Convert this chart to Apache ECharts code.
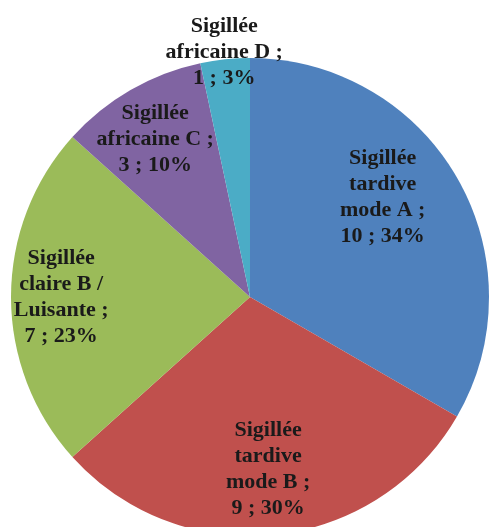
<!DOCTYPE html>
<html>
<head>
<meta charset="utf-8">
<script src="https://cdn.jsdelivr.net/npm/echarts@6/dist/echarts.min.js"></script>
<style>
  html, body { margin: 0; padding: 0; background: #fff; }
  #chart { width: 490px; height: 527px; }
</style>
</head>
<body>
<div id="chart"></div>
<script>
const categories = [
  'Sigillée tardive mode A',
  'Sigillée tardive mode B',
  'Sigillée claire B / Luisante',
  'Sigillée africaine C',
  'Sigillée africaine D'
]
const labelNames = [
  'Sigillée\ntardive\nmode A ;',
  'Sigillée\ntardive\nmode B ;',
  'Sigillée\nclaire B /\nLuisante ;',
  'Sigillée\nafricaine C ;',
  'Sigillée\nafricaine D ;'
]
const counts = [10, 9, 7, 3, 1]
const percents = [34, 30, 23, 10, 3]
const colors = ['#4F81BD', '#C0504D', '#9BBB59', '#8064A2', '#4BACC6']

// label placement (radius ratio, angle tweak in degrees)
const labelRatio = [0.695, 0.725, 0.79, 0.77, 1.03]
const labelTweak = [-7, 0, 0, -1, 0]

const cx = 250, cy = 297, R = 239
const total = counts.reduce((a, b) => a + b, 0)
const midAngles = []
let acc = 0
counts.forEach(v => {
  midAngles.push((acc + v / 2) / total * 360)
  acc += v
})

const chart = echarts.init(document.getElementById('chart'))

const option = {
  animation: false,
  series: [{
    type: 'pie',
    center: [cx, cy],
    radius: [0, R],
    startAngle: 90,
    clockwise: true,
    data: categories.map((name, i) => ({
      name: name,
      value: counts[i],
      itemStyle: { color: colors[i] }
    })),
    itemStyle: { borderWidth: 0 },
    label: {
      show: true,
      position: 'inside',
      formatter: p => labelNames[p.dataIndex] + '\n' + counts[p.dataIndex] + ' ; ' + percents[p.dataIndex] + '%',
      fontFamily: '"Liberation Serif", "Times New Roman", serif',
      fontWeight: 'bold',
      fontSize: 22,
      lineHeight: 26,
      color: '#1a1a1a',
      align: 'center'
    },
    labelLine: { show: false },
    labelLayout: params => {
      const i = params.dataIndex
      const a = (midAngles[i] + labelTweak[i]) * Math.PI / 180
      const r = R * labelRatio[i]
      return {
        x: cx + r * Math.sin(a),
        y: cy - r * Math.cos(a),
        align: 'center',
        verticalAlign: 'middle'
      }
    }
  }]
}

chart.setOption(option)
</script>
</body>
</html>
